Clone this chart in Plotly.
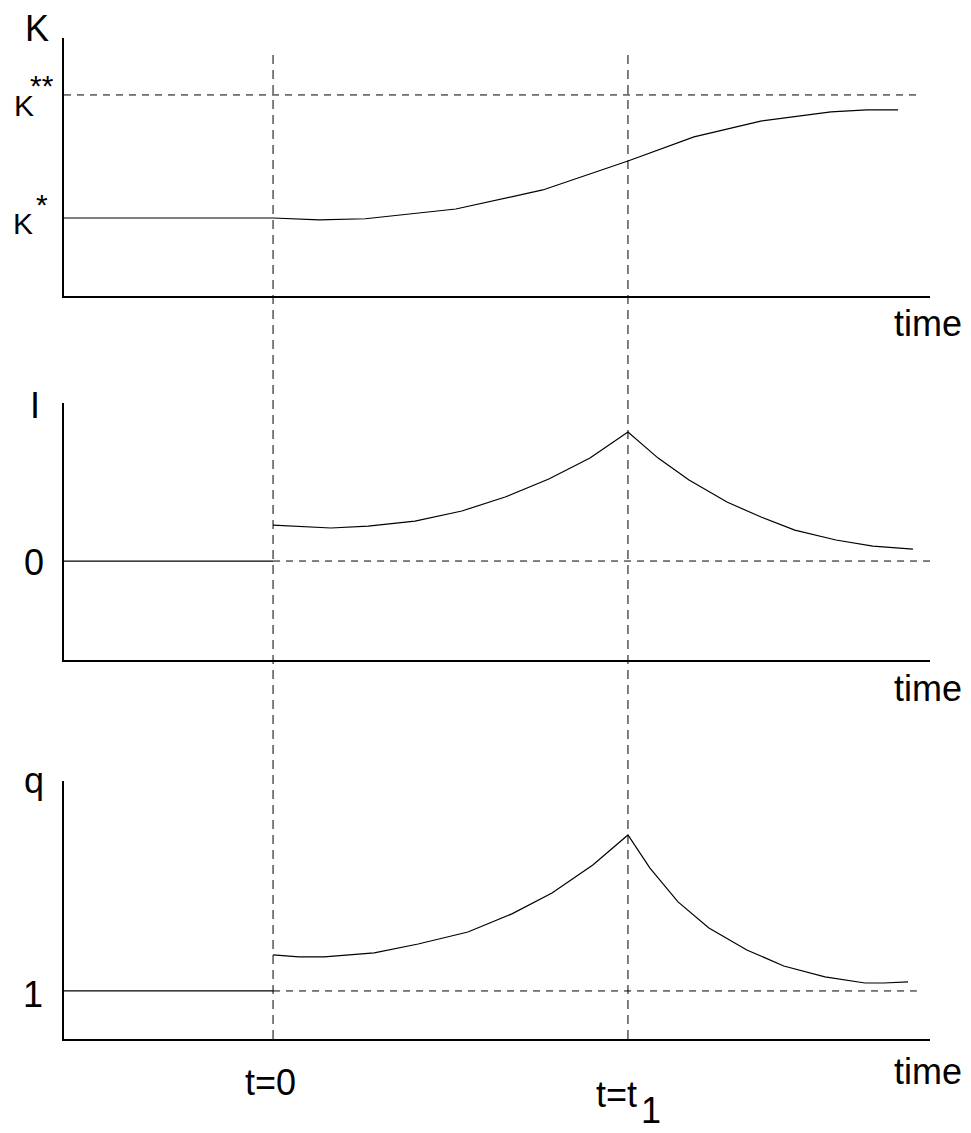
import plotly.graph_objects as go

# ---------------- data ----------------
T0 = 0.0          # t = 0
T1 = 1.0          # t = t1
X_MIN, X_MAX = -0.589, 1.851

K_STAR = 0.0
K_STARSTAR = 1.0
k_time = [0.0, 0.13, 0.26, 0.515, 0.76, 1.0, 1.186, 1.377, 1.572, 1.673, 1.761]
k_vals = [0.0, -0.016, -0.006, 0.073, 0.228, 0.463, 0.659, 0.789, 0.862, 0.878, 0.878]

I_ZERO = 0.0
i_time = [0.0, 0.163, 0.268, 0.40, 0.532, 0.654, 0.777, 0.893, 1.0, 1.085, 1.172,
          1.279, 1.375, 1.470, 1.586, 1.690, 1.803]
i_vals = [0.279, 0.256, 0.271, 0.310, 0.388, 0.496, 0.636, 0.798, 1.0, 0.798, 0.628,
          0.457, 0.341, 0.240, 0.163, 0.116, 0.093]

Q_ONE = 1.0
q_time = [0.0, 0.073, 0.144, 0.285, 0.409, 0.549, 0.673, 0.786, 0.901, 1.0, 1.062,
          1.141, 1.228, 1.335, 1.439, 1.555, 1.668, 1.721, 1.789]
q_vals = [1.231, 1.218, 1.218, 1.244, 1.301, 1.378, 1.494, 1.628, 1.808, 2.0, 1.788,
          1.571, 1.404, 1.263, 1.160, 1.090, 1.051, 1.051, 1.058]

K_DASH_END = 1.814
I_DASH_END = 1.851
Q_DASH_END = 1.814

k_range = [-0.634, 1.463]
i_range = [-0.767, 1.225]
q_range = [0.692, 2.346]

# ---------------- layout helpers ----------------
W, H = 971, 1133
FONT = "Liberation Sans, Arial, Helvetica, sans-serif"


def px(x):
    return x / W


def py(y):
    return 1 - y / H


x_dom = [px(64), px(930)]
panels = [
    (py(296), py(38)),
    (py(660), py(403)),
    (py(1039), py(781)),
]

fig = go.Figure()
line_style = dict(color="black", width=1.2)
dash_h = dict(color="black", width=1, dash="7px,6px")

# K panel
fig.add_trace(go.Scatter(x=[X_MIN, T0], y=[K_STAR, K_STAR], mode="lines",
                         line=line_style, xaxis="x", yaxis="y"))
fig.add_trace(go.Scatter(x=k_time, y=k_vals, mode="lines",
                         line=line_style, xaxis="x", yaxis="y"))
fig.add_trace(go.Scatter(x=[X_MIN, K_DASH_END], y=[K_STARSTAR, K_STARSTAR], mode="lines",
                         line=dash_h, xaxis="x", yaxis="y"))

# I panel
fig.add_trace(go.Scatter(x=[X_MIN, T0], y=[I_ZERO, I_ZERO], mode="lines",
                         line=line_style, xaxis="x2", yaxis="y2"))
fig.add_trace(go.Scatter(x=[T0, I_DASH_END], y=[I_ZERO, I_ZERO], mode="lines",
                         line=dash_h, xaxis="x2", yaxis="y2"))
fig.add_trace(go.Scatter(x=i_time, y=i_vals, mode="lines",
                         line=line_style, xaxis="x2", yaxis="y2"))

# q panel
fig.add_trace(go.Scatter(x=[X_MIN, T0], y=[Q_ONE, Q_ONE], mode="lines",
                         line=line_style, xaxis="x3", yaxis="y3"))
fig.add_trace(go.Scatter(x=[T0, Q_DASH_END], y=[Q_ONE, Q_ONE], mode="lines",
                         line=dash_h, xaxis="x3", yaxis="y3"))
fig.add_trace(go.Scatter(x=q_time, y=q_vals, mode="lines",
                         line=line_style, xaxis="x3", yaxis="y3"))

# vertical dashed event lines spanning all panels
for t in (T0, T1):
    fig.add_shape(type="line", xref="x3", yref="paper", x0=t, x1=t,
                  y0=py(1039), y1=py(50),
                  line=dict(color="black", width=1, dash="9px,6px"), layer="below")

ax_common = dict(showline=True, linecolor="black", linewidth=1.6, showgrid=False,
                 zeroline=False, showticklabels=False, ticks="", fixedrange=True)

layout = dict(
    width=W, height=H, margin=dict(l=0, r=0, t=0, b=0),
    paper_bgcolor="white", plot_bgcolor="white", showlegend=False,
    font=dict(family=FONT, color="black"),
)
for idx, ((y0, y1), yr) in enumerate(zip(panels, [k_range, i_range, q_range]), start=1):
    sfx = "" if idx == 1 else str(idx)
    layout["xaxis" + sfx] = dict(domain=x_dom, range=[X_MIN, X_MAX],
                                 anchor="y" + sfx, **ax_common)
    layout["yaxis" + sfx] = dict(domain=[y0, y1], range=yr,
                                 anchor="x" + sfx, **ax_common)
fig.update_layout(**layout)


def label(text, x, y, size=36, xanchor="center", yanchor="middle"):
    fig.add_annotation(text=text, xref="paper", yref="paper", x=px(x), y=py(y),
                       xanchor=xanchor, yanchor=yanchor, showarrow=False,
                       font=dict(family=FONT, size=size, color="black"))


label("K", 37, 28.5)
label("K", 24, 105.5, size=30)
label("**", 41.5, 85.6, size=30)
label("K", 22.5, 224, size=30)
label("*", 42, 204.6, size=30)
label("I", 35, 406)
label("0", 34, 562.5)
label("q", 34, 780.5)
label("1", 33, 994)
label("time", 927.5, 323.5)
label("time", 927.5, 688.5)
label("time", 927.5, 1071.5)
label("t=0", 270, 1082.5)
label("t=t", 616.5, 1094.5)
label("1", 650.5, 1132.5, yanchor="bottom")

fig.write_html("out.html", config={"displayModeBar": False},
               post_script="document.body.style.margin='0';")
